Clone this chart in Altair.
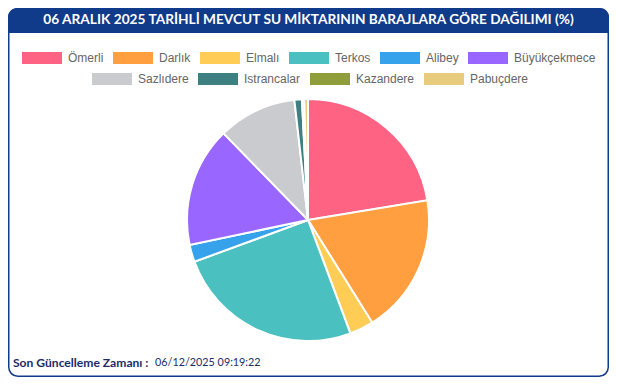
import altair as alt
import pandas as pd

names = ["Ömerli", "Darlık", "Elmalı", "Terkos", "Alibey", "Büyükçekmece",
         "Sazlıdere", "Istrancalar", "Kazandere", "Pabuçdere"]
values = [22.4, 18.7, 3.2, 25.1, 2.3, 16.0, 10.5, 1.0, 0.3, 0.5]
colors = ["#ff6384", "#ff9f40", "#ffcd56", "#4bc0c0", "#36a2eb", "#9966ff",
          "#c9cbcf", "#3e7f82", "#8f9e3b", "#e8cb7d"]
row1 = names[:6]
row2 = names[6:]

title_text = "06 ARALIK 2025 TARİHLİ MEVCUT SU MİKTARININ BARAJLARA GÖRE DAĞILIMI (%)"
footer_label = "Son Güncelleme Zamanı :"
footer_value = "06/12/2025 09:19:22"

BLUE = "#103a8a"
W, H = 601, 369

df = pd.DataFrame({"name": names, "value": values, "idx": list(range(len(names)))})
one = pd.DataFrame({"k": [0]})

card = alt.Chart(one).mark_rect(
    fill="white", stroke=BLUE, strokeWidth=1.5, cornerRadius=9
).encode(x=alt.value(0.75), x2=alt.value(W - 0.75), y=alt.value(0.75), y2=alt.value(H - 0.75))

header = alt.Chart(one).mark_rect(
    fill=BLUE, cornerRadiusTopLeft=9, cornerRadiusTopRight=9
).encode(x=alt.value(0), x2=alt.value(W), y=alt.value(0), y2=alt.value(25))

title = alt.Chart(one).mark_text(
    text=title_text, font="Lato", fontWeight="bold", fontSize=13.7, color="white",
    align="center", baseline="middle"
).encode(x=alt.value(W / 2), y=alt.value(11.5))

foot1 = alt.Chart(one).mark_text(
    text=footer_label, font="Lato", fontWeight="bold", fontSize=12.1, color="#1b2d66",
    align="left", baseline="middle"
).encode(x=alt.value(5), y=alt.value(355))

foot2 = alt.Chart(one).mark_text(
    text=footer_value, font="Lato", fontSize=10.8, color="#1b2d66",
    align="left", baseline="middle"
).encode(x=alt.value(147), y=alt.value(355))


def pie_layer(subset, sub_colors, lx, ly):
    return alt.Chart(df).transform_window(
        cum="sum(value)", sort=[alt.SortField("idx")], frame=[None, 0]
    ).transform_joinaggregate(
        total="sum(value)"
    ).transform_calculate(
        start="(datum.cum - datum.value) / datum.total",
        end="datum.cum / datum.total"
    ).transform_filter(
        alt.FieldOneOfPredicate(field="name", oneOf=subset)
    ).mark_arc(radius=121, stroke="white", strokeWidth=2).encode(
        theta=alt.Theta("start:Q", scale=alt.Scale(domain=[0, 1])),
        theta2="end:Q",
        x=alt.value(300),
        y=alt.value(212),
        color=alt.Color(
            "name:N",
            scale=alt.Scale(domain=subset, range=sub_colors),
            sort=subset,
            legend=alt.Legend(
                orient="none", legendX=lx, legendY=ly, direction="horizontal",
                title=None,
                symbolType="M-1,-0.3L1,-0.3L1,0.3L-1,0.3Z", symbolSize=1600,
                symbolStrokeWidth=0, symbolOpacity=1,
                labelFont="Liberation Sans", labelFontSize=12, labelColor="#666666",
                labelOffset=6, columnPadding=9,
            ),
        ),
        tooltip=["name:N", "value:Q"],
    )


pie1 = pie_layer(row1, colors[:6], 14, 30)
pie2 = pie_layer(row2, colors[6:], 84, 51)

chart = alt.layer(card, header, title, foot1, foot2, pie1, pie2).resolve_scale(
    color="independent"
).properties(
    width=W, height=H, autosize=alt.AutoSizeParams(type="none"), padding=0
).configure_view(stroke=None)

chart.save("out.html", embed_options={"renderer": "svg", "actions": False})
